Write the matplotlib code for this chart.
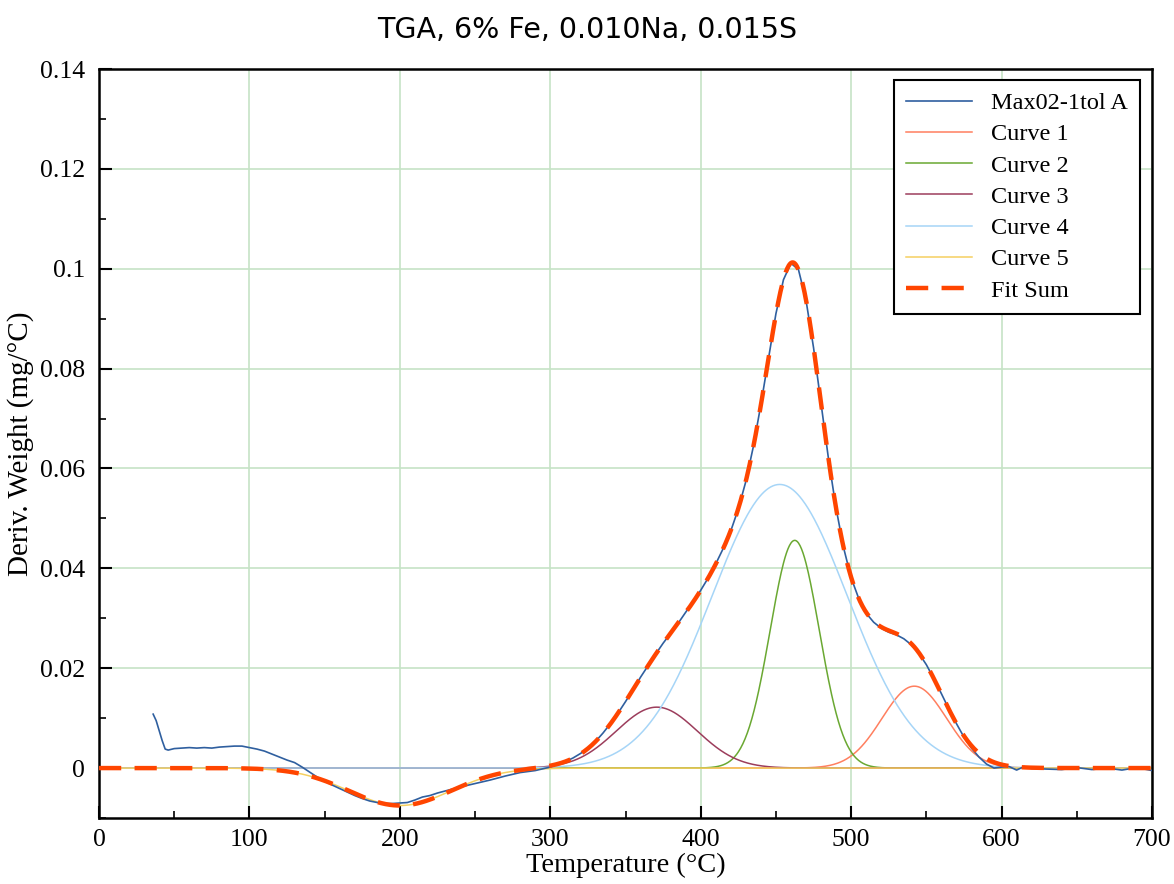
import numpy as np
import matplotlib
matplotlib.use("Agg")
import matplotlib.pyplot as plt
from matplotlib.ticker import MultipleLocator, FixedLocator

# ---- measured data (Max02-1tol A) ----
temp_data = [36, 38, 40, 42, 44, 46, 50, 55, 60, 65,
             70, 75, 80, 85, 90, 95, 100, 105, 110, 115,
             120, 125, 130, 135, 140, 145, 150, 155, 160, 165,
             170, 175, 180, 185, 190, 195, 200, 205, 210, 215,
             220, 225, 230, 240, 250, 260, 270, 280, 290, 300,
             305, 310, 315, 320, 325, 330, 335, 340, 345, 350,
             355, 360, 365, 370, 375, 380, 385, 390, 395, 400,
             405, 410, 415, 420, 425, 430, 435, 440, 445, 450,
             455, 460, 465, 470, 475, 480, 485, 490, 495, 500,
             505, 510, 515, 520, 525, 530, 535, 540, 545, 550,
             555, 560, 565, 570, 575, 580, 585, 590, 595, 600,
             605, 610, 615, 620, 630, 640, 650, 660, 670, 680,
             690, 700]
deriv_data = [0.0108, 0.0095, 0.0075, 0.0055, 0.0038, 0.0036, 0.0039, 0.0040, 0.0041, 0.0040,
              0.0041, 0.0040, 0.0042, 0.0043, 0.0044, 0.0044, 0.0041, 0.0038, 0.0034, 0.0028,
              0.0022, 0.0016, 0.0011, 0.0002, -0.0008, -0.0018, -0.0026, -0.0034, -0.0041, -0.0048,
              -0.0055, -0.0061, -0.0066, -0.0069, -0.0071, -0.0071, -0.0070, -0.0069, -0.0064, -0.0058,
              -0.0055, -0.0050, -0.0046, -0.0038, -0.0031, -0.0024, -0.0016, -0.0009, -0.0005, 0.0002,
              0.0008, 0.0013, 0.0020, 0.0029, 0.0039, 0.0053, 0.0070, 0.0089, 0.0110, 0.0133,
              0.0157, 0.0182, 0.0205, 0.0228, 0.0250, 0.0270, 0.0290, 0.0312, 0.0333, 0.0356,
              0.0381, 0.0409, 0.0440, 0.0475, 0.0519, 0.0574, 0.0644, 0.0728, 0.0819, 0.0910,
              0.0978, 0.1011, 0.0998, 0.0937, 0.0842, 0.0730, 0.0618, 0.0520, 0.0441, 0.0381,
              0.0340, 0.0310, 0.0292, 0.0280, 0.0272, 0.0267, 0.0259, 0.0247, 0.0230, 0.0207,
              0.0179, 0.0149, 0.0118, 0.0089, 0.0062, 0.0040, 0.0022, 0.0008, 0.0000, 0.0002,
              0.0003, -0.0004, 0.0003, -0.0001, -0.0002, -0.0003, 0.0001, -0.0003, 0.0000, -0.0004,
              0.0001, -0.0005]

# ---- fitted Gaussian components: Curve 1..5 ----
curve_names = ["Curve 1", "Curve 2", "Curve 3", "Curve 4", "Curve 5"]
curve_amp = [0.0164, 0.0456, 0.0122, 0.0568, -0.0075]
curve_center = [542.0, 462.5, 370.8, 452.5, 200.0]
curve_sigma = [21.5, 16.3, 27.0, 45.0, 34.0]
curve_colors = ["#ff7f5f", "#6aa832", "#9c3d5c", "#a6d5f7", "#f5d060"]

x_ticks = [0, 100, 200, 300, 400, 500, 600, 700]
y_ticks = [0, 0.02, 0.04, 0.06, 0.08, 0.1, 0.12, 0.14]
y_tick_labels = ["0", "0.02", "0.04", "0.06", "0.08", "0.1", "0.12", "0.14"]

serif = "Liberation Serif"

fig = plt.figure(figsize=(11.74, 8.84), dpi=100)
ax = fig.add_axes([99 / 1174, 1 - 818 / 884, (1152 - 99) / 1174, (818 - 69) / 884])

T = np.linspace(0, 700, 1401)
comps = []
for a, c, s in zip(curve_amp, curve_center, curve_sigma):
    comps.append(a * np.exp(-((T - c) ** 2) / (2 * s ** 2)))

ax.plot(temp_data, deriv_data, color="#2f5f9f", lw=1.2, label="Max02-1tol A", zorder=3)
for name, y, col in zip(curve_names, comps, curve_colors):
    ax.plot(T, y, color=col, lw=1.1, label=name, zorder=2)
fit_sum = np.sum(comps, axis=0)
ax.plot(T, fit_sum, color="#ff4500", lw=3.2, dashes=(5, 3), label="Fit Sum", zorder=4)

ax.set_xlim(0, 700)
ax.set_ylim(-0.01, 0.14)
ax.xaxis.set_major_locator(FixedLocator(x_ticks))
ax.xaxis.set_minor_locator(MultipleLocator(50))
ax.yaxis.set_major_locator(FixedLocator(y_ticks))
ax.yaxis.set_minor_locator(MultipleLocator(0.01))
ax.set_yticklabels(y_tick_labels)
ax.tick_params(which="major", direction="in", length=9, width=1.5, labelsize=18.5)
ax.tick_params(axis="y", which="major", pad=10)
ax.tick_params(axis="x", which="major", pad=8)
ax.tick_params(which="minor", direction="in", length=5, width=1.2)
for lab in ax.get_xticklabels() + ax.get_yticklabels():
    lab.set_fontfamily(serif)

ax.grid(True, which="major", color="#c6e3c6", lw=1.2, zorder=0)
ax.set_axisbelow(True)
for sp in ax.spines.values():
    sp.set_linewidth(1.8)
    sp.set_color("black")

ax.set_xlabel("Temperature (°C)", fontfamily=serif, fontsize=20.5, labelpad=1)
ax.set_ylabel("Deriv. Weight (mg/°C)", fontfamily=serif, fontsize=21, labelpad=4)
fig.text(0.5, 1 - 30 / 884, "TGA, 6% Fe, 0.010Na, 0.015S", ha="center", va="center",
         fontfamily="DejaVu Sans", fontsize=20.5)

leg = ax.legend(loc="upper right", bbox_to_anchor=(0.9886, 0.9853), borderaxespad=0,
                frameon=True, fancybox=False,
                edgecolor="black", framealpha=1, prop={"family": serif, "size": 17.5},
                handlelength=2.7, labelspacing=0.38, borderpad=0.5, handletextpad=0.8)
leg.get_frame().set_linewidth(1.5)

fig.savefig("out.png", dpi=100)
